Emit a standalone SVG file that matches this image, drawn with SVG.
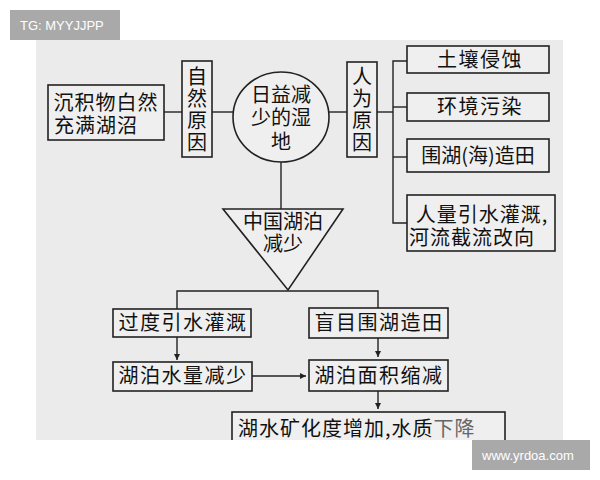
<svg xmlns="http://www.w3.org/2000/svg" width="600" height="480" viewBox="0 0 600 480">
<defs>
<style>
.box{fill:#efefef;stroke:#222;stroke-width:1.6}
.ln{fill:none;stroke:#222;stroke-width:1.4}
.t{font-family:"Noto Sans CJK SC","Noto Sans",sans-serif;font-size:20px;fill:#111;text-anchor:middle}
.sp{letter-spacing:1.5px}
.v{font-family:"Noto Sans CJK SC","Noto Sans",sans-serif;font-size:20px;fill:#111;text-anchor:middle;writing-mode:vertical-rl;letter-spacing:2px}
.wm{font-family:"Liberation Sans","DejaVu Sans",sans-serif;font-size:13px;fill:#fff}
</style>
<marker id="ah" markerWidth="8" markerHeight="8" refX="6" refY="3" orient="auto" markerUnits="userSpaceOnUse">
<path d="M0,0 L6,3 L0,6 Z" fill="#222"/>
</marker>
<clipPath id="panel"><rect x="36" y="40" width="527" height="400"/></clipPath>
</defs>
<rect width="600" height="480" fill="#fff"/>
<rect x="36" y="40" width="527" height="400" fill="#ebebeb"/>

<g id="connectors">
<line class="ln" x1="164" y1="112" x2="182" y2="112"/>
<line class="ln" x1="212" y1="112" x2="233" y2="112"/>
<line class="ln" x1="329" y1="112" x2="347" y2="112"/>
<line class="ln" x1="377" y1="112" x2="393" y2="112"/>
<path class="ln" d="M407,61 H393 V223 H407"/>
<line class="ln" x1="393" y1="107" x2="407" y2="107"/>
<line class="ln" x1="393" y1="157" x2="407" y2="157"/>
<line class="ln" x1="281" y1="162" x2="281" y2="209"/>
<path class="ln" d="M177,309 V291 H378 V308"/>
<line class="ln" x1="177" y1="337" x2="177" y2="360" marker-end="url(#ah)"/>
<line class="ln" x1="378" y1="338" x2="378" y2="357" marker-end="url(#ah)"/>
<line class="ln" x1="252" y1="376" x2="306" y2="376" marker-end="url(#ah)"/>
<line class="ln" x1="378" y1="391" x2="378" y2="409" marker-end="url(#ah)"/>
</g>

<g id="n-sediment">
<rect class="box" x="48" y="85" width="116" height="55"/>
<text class="t" x="106" y="110" style="letter-spacing:1px">沉积物白然</text>
<text class="t" x="96" y="133" style="letter-spacing:1px">充满湖沼</text>
</g>

<g id="n-natural">
<rect class="box" x="182" y="61" width="30" height="96"/>
<text class="v" x="197" y="110">自然原因</text>
</g>

<g id="n-wetland">
<ellipse class="box" cx="281" cy="117" rx="48" ry="45"/>
<text class="t" x="281" y="102">日益减</text>
<text class="t" x="281" y="125">少的湿</text>
<text class="t" x="281" y="149">地</text>
</g>

<g id="n-human">
<rect class="box" x="347" y="62" width="30" height="95"/>
<text class="v" x="362" y="110">人为原因</text>
</g>

<g id="n-soil">
<rect class="box" x="407" y="46" width="142" height="27"/>
<text class="t sp" x="480" y="67">土壤侵蚀</text>
</g>
<g id="n-pollution">
<rect class="box" x="407" y="93" width="142" height="28"/>
<text class="t sp" x="480" y="114">环境污染</text>
</g>
<g id="n-reclaim">
<rect class="box" x="407" y="139" width="142" height="33"/>
<text class="t" x="478" y="163">围湖(海)造田</text>
</g>
<g id="n-irrigation">
<rect class="box" x="407" y="195" width="148" height="56"/>
<text class="t" x="482" y="222" style="letter-spacing:1px">人量引水灌溉,</text>
<text class="t" x="472" y="245" style="letter-spacing:1px">河流截流改向</text>
</g>

<g id="n-lakes">
<path class="box" d="M223,209 H343 L288,290 Z"/>
<text class="t" x="283" y="229">中国湖泊</text>
<text class="t" x="283" y="251">减少</text>
</g>

<g id="n-over">
<rect class="box" x="113" y="309" width="138" height="28"/>
<text class="t sp" x="183" y="330">过度引水灌溉</text>
</g>
<g id="n-blind">
<rect class="box" x="309" y="308" width="139" height="30"/>
<text class="t sp" x="379" y="330">盲目围湖造田</text>
</g>
<g id="n-volume">
<rect class="box" x="113" y="362" width="139" height="29"/>
<text class="t sp" x="183" y="383">湖泊水量减少</text>
</g>
<g id="n-area">
<rect class="box" x="309" y="360" width="139" height="31"/>
<text class="t sp" x="379" y="383">湖泊面积缩减</text>
</g>
<g id="n-quality" clip-path="url(#panel)">
<rect class="box" x="232" y="412" width="273" height="40"/>
<text class="t" x="238" y="436" style="text-anchor:start;letter-spacing:1px">湖水矿化度增加,水质<tspan fill="#666">下降</tspan></text>
</g>

<rect x="10" y="10" width="110" height="30" fill="#a9a9a9"/>
<text class="wm" x="20" y="30">TG: MYYJJPP</text>
<rect x="472" y="440" width="118" height="30" fill="#a9a9a9"/>
<text class="wm" x="482" y="460">www.yrdoa.com</text>
</svg>
